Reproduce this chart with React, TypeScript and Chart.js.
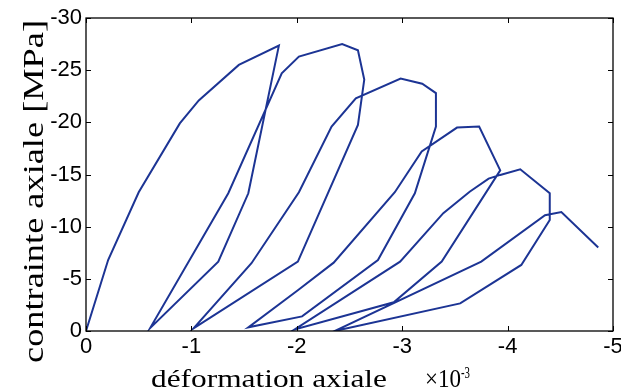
import React, { useEffect, useRef } from 'react';
import { Chart, registerables } from 'chart.js';

Chart.register(...registerables);

// axial strain (x 10^-3), in path order
const strain = [
  0, -0.21, -0.5, -0.89, -1.07, -1.45, -1.83, -1.54, -1.255, -0.61,
  -1.35, -1.857, -2.02, -2.43, -2.58, -2.64, -2.58, -2.01, -1.02,
  -1.57, -2.02, -2.33, -2.56, -2.985, -3.19, -3.32, -3.32, -3.12, -2.77, -2.05, -1.54,
  -2.01, -2.35, -2.93, -3.185, -3.52, -3.73, -3.93, -3.375, -2.92, -1.98,
  -2.98, -3.39, -3.64, -3.82, -3.93, -4.12, -4.4, -4.4, -4.13, -3.55, -2.36,
  -3.75, -4.355, -4.51, -4.86,
];
// axial stress (MPa), in path order
const stress = [
  0, -6.8, -13.3, -19.9, -22.1, -25.5, -27.35, -13.2, -6.65, -0.3,
  -13.2, -24.7, -26.3, -27.5, -26.9, -24.1, -19.75, -6.65, -0.25,
  -6.5, -13.3, -19.6, -22.3, -24.2, -23.7, -22.8, -19.6, -13.2, -6.8, -1.4, -0.35,
  -3.9, -6.55, -13.3, -17.2, -19.5, -19.6, -15.4, -6.65, -2.75, -0.15,
  -6.65, -11.3, -13.35, -14.6, -14.96, -15.5, -13.2, -10.64, -6.33, -2.65, 0,
  -6.65, -11.1, -11.4, -8.0,
];
const xTicks = [0, -1, -2, -3, -4, -5];
const yTicks = [0, -5, -10, -15, -20, -25, -30];
const xTitle = 'déformation axiale';
const xFactor = '×10';
const xExponent = '-3';
const yTitle = 'contrainte axiale [MPa]';

const LINE_COLOR = 'rgb(28,52,148)';

function fitText(ctx: CanvasRenderingContext2D, text: string, x: number, y: number, w: number, align: CanvasTextAlign) {
  const m = ctx.measureText(text).width;
  const s = w / m;
  ctx.save();
  ctx.translate(x, y);
  ctx.scale(s, 1);
  ctx.textAlign = align;
  ctx.fillText(text, 0, 0);
  ctx.restore();
}

const framePlugin = {
  id: 'frame',
  afterDraw(chart: any) {
    const { ctx, chartArea: a, scales } = chart;
    ctx.save();
    ctx.strokeStyle = '#000';
    ctx.lineWidth = 1.3;
    ctx.strokeRect(a.left, a.top, a.right - a.left, a.bottom - a.top);
    const L = 5;
    ctx.beginPath();
    for (const v of xTicks) {
      const px = Math.round(scales.x.getPixelForValue(v)) + 0.5;
      ctx.moveTo(px, a.bottom); ctx.lineTo(px, a.bottom - L);
      ctx.moveTo(px, a.top); ctx.lineTo(px, a.top + L);
    }
    for (const v of yTicks) {
      const py = Math.round(scales.y.getPixelForValue(v)) + 0.5;
      ctx.moveTo(a.left, py); ctx.lineTo(a.left + L, py);
      ctx.moveTo(a.right, py); ctx.lineTo(a.right - L, py);
    }
    ctx.lineWidth = 1;
    ctx.stroke();

    ctx.fillStyle = '#000';
    ctx.textBaseline = 'alphabetic';
    // x title
    ctx.font = '26px "Liberation Serif"';
    fitText(ctx, xTitle, a.left + 65, a.bottom + 56, 236, 'left');
    ctx.font = '26px "Liberation Serif"';
    fitText(ctx, xFactor, a.left + 339, a.bottom + 56, 36, 'left');
    ctx.font = '16px "Liberation Serif"';
    fitText(ctx, xExponent, a.left + 375, a.bottom + 47, 9, 'left');

    // y title
    ctx.save();
    ctx.translate(43, (a.top + a.bottom) / 2 + 17);
    ctx.rotate(-Math.PI / 2);
    ctx.font = '30px "Liberation Serif"';
    fitText(ctx, yTitle, 0, 0, 343, 'center');
    ctx.restore();
    ctx.restore();
  },
};

export default function App() {
  const ref = useRef<HTMLCanvasElement>(null);
  useEffect(() => {
    if (!ref.current) return;
    const pts = strain.map((x, i) => ({ x, y: stress[i] }));
    const chart = new Chart(ref.current, {
      type: 'scatter',
      data: {
        datasets: [{
          data: pts,
          showLine: true,
          borderColor: LINE_COLOR,
          backgroundColor: LINE_COLOR,
          borderWidth: 2,
          pointRadius: 0,
          tension: 0,
        }],
      },
      options: {
        animation: false,
        responsive: false,
        devicePixelRatio: 1,
        layout: { padding: { left: 0, right: 8, top: 18, bottom: 0 } },
        plugins: { legend: { display: false }, tooltip: { enabled: false } },
        scales: {
          x: {
            type: 'linear',
            min: -5,
            max: 0,
            reverse: true,
            afterBuildTicks: (s: any) => { s.ticks = xTicks.map((v) => ({ value: v })); },
            ticks: { color: '#000', font: { family: '"Liberation Sans"', size: 22 }, padding: 3, maxRotation: 0 },
            grid: { display: false, drawTicks: false },
            border: { display: false },
            afterFit: (s: any) => { s.height = 61; s.paddingLeft = 0; s.paddingRight = 0; },
          },
          y: {
            type: 'linear',
            min: -30,
            max: 0,
            reverse: true,
            afterBuildTicks: (s: any) => { s.ticks = yTicks.map((v) => ({ value: v })); },
            ticks: { color: '#000', font: { family: '"Liberation Sans"', size: 22 }, padding: 4 },
            grid: { display: false, drawTicks: false },
            border: { display: false },
            afterFit: (s: any) => { s.width = 86; s.paddingTop = 0; s.paddingBottom = 0; },
          },
        },
      },
      plugins: [framePlugin],
    });
    return () => chart.destroy();
  }, []);
  return (
    <div style={{ position: 'fixed', left: 0, top: 0, width: 621, height: 392, background: '#fff' }}>
      <canvas ref={ref} width={621} height={392} style={{ display: 'block', width: 621, height: 392 }} />
    </div>
  );
}
